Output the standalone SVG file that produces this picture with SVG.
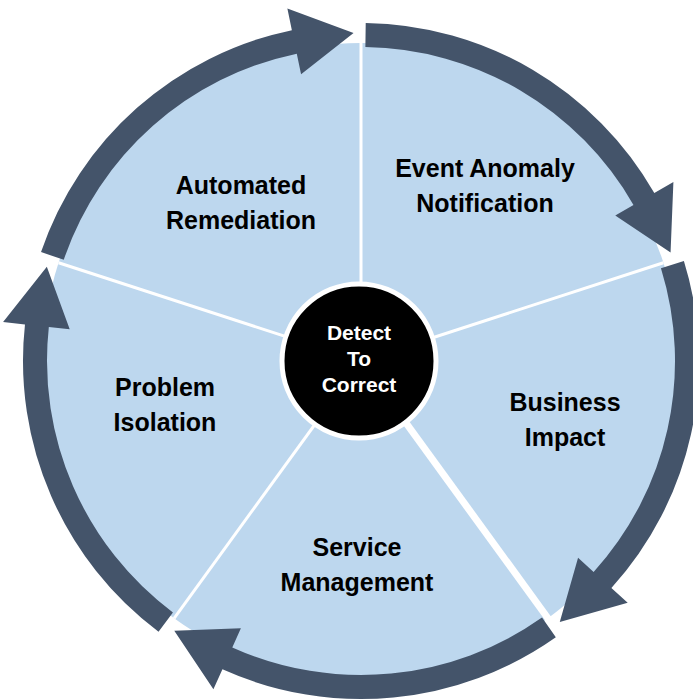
<svg xmlns="http://www.w3.org/2000/svg" xmlns:xlink="http://www.w3.org/1999/xlink" width="693" height="700" viewBox="0 0 693 700">
  <style>
    .wedge { fill: #BDD7EE; }
    .sep { stroke: #FFFFFF; stroke-width: 3; }
    .arrow { fill: #44546A; }
    .lbl { font-family: "Liberation Sans", Arial, sans-serif; font-weight: bold; font-size: 25px; fill: #000000; text-anchor: middle; }
    .clbl { font-family: "Liberation Sans", Arial, sans-serif; font-weight: bold; font-size: 21px; fill: #FFFFFF; text-anchor: middle; }
  </style>
  <defs>
    <path id="wedgeShape" d="M0 0 L318 0 A318 318 0 0 1 98.27 302.44 Z"/>
    <path id="arrowShape" d="M337.97 4.72 A338 338 0 0 1 167.98 293.31 L178.91 312.40 L108.41 309.57 L145.62 254.26 L156.05 272.48 A314 314 0 0 0 313.97 4.38 Z"/>
  </defs>
  <rect width="693" height="700" fill="#FFFFFF"/>

  <g id="node-event-anomaly-notification">
    <use xlink:href="#wedgeShape" class="wedge" transform="translate(361 361) rotate(-90)"/>
    <text class="lbl" x="485" y="177">Event Anomaly</text>
    <text class="lbl" x="485" y="212">Notification</text>
  </g>
  <g id="node-business-impact">
    <use xlink:href="#wedgeShape" class="wedge" transform="translate(361 361) rotate(-18)"/>
    <text class="lbl" x="565" y="411">Business</text>
    <text class="lbl" x="565" y="446">Impact</text>
  </g>
  <g id="node-service-management">
    <use xlink:href="#wedgeShape" class="wedge" transform="translate(361 361) rotate(54)"/>
    <text class="lbl" x="357" y="556">Service</text>
    <text class="lbl" x="357" y="591">Management</text>
  </g>
  <g id="node-problem-isolation">
    <use xlink:href="#wedgeShape" class="wedge" transform="translate(361 361) rotate(126)"/>
    <text class="lbl" x="165" y="396">Problem</text>
    <text class="lbl" x="165" y="431">Isolation</text>
  </g>
  <g id="node-automated-remediation">
    <use xlink:href="#wedgeShape" class="wedge" transform="translate(361 361) rotate(198)"/>
    <text class="lbl" x="241" y="194">Automated</text>
    <text class="lbl" x="241" y="229">Remediation</text>
  </g>

  <g id="separators" transform="translate(361 361)">
    <line class="sep" x1="0" y1="0" x2="318" y2="0" transform="rotate(-90)"/>
    <line class="sep" x1="0" y1="0" x2="318" y2="0" transform="rotate(-18)"/>
    <line class="sep" x1="0" y1="0" x2="322" y2="0" transform="rotate(54)" style="stroke-width:7"/>
    <line class="sep" x1="0" y1="0" x2="318" y2="0" transform="rotate(126)"/>
    <line class="sep" x1="0" y1="0" x2="318" y2="0" transform="rotate(198)"/>
  </g>

  <g id="connectors">
    <use xlink:href="#arrowShape" class="arrow" transform="translate(361 361) rotate(-90)"/>
    <use xlink:href="#arrowShape" class="arrow" transform="translate(361 361) rotate(-18)"/>
    <use xlink:href="#arrowShape" class="arrow" transform="translate(361 361) rotate(54)"/>
    <use xlink:href="#arrowShape" class="arrow" transform="translate(361 361) rotate(126)"/>
    <use xlink:href="#arrowShape" class="arrow" transform="translate(361 361) rotate(198)"/>
  </g>

  <g id="node-detect-to-correct">
    <circle cx="359" cy="361" r="77" fill="#000000" stroke="#FFFFFF" stroke-width="5"/>
    <text class="clbl" x="359" y="340">Detect</text>
    <text class="clbl" x="359" y="366">To</text>
    <text class="clbl" x="359" y="392">Correct</text>
  </g>
</svg>
